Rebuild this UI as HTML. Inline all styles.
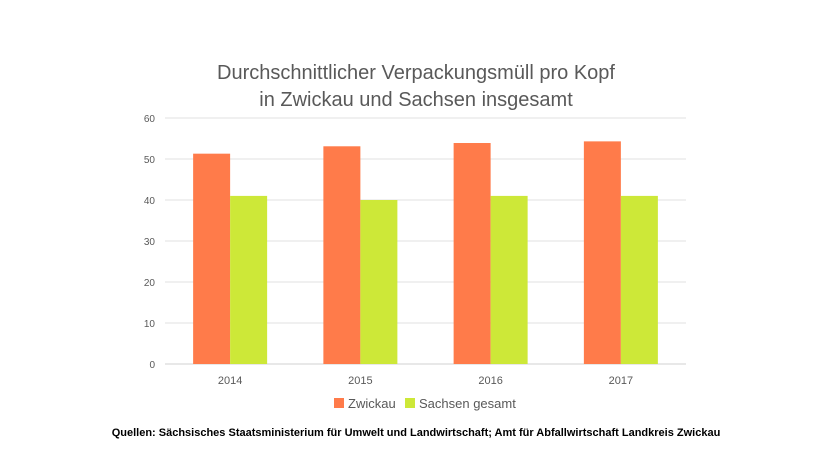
<!DOCTYPE html>
<html><head><meta charset="utf-8"><style>
body{margin:0;background:#fff;font-family:"Liberation Sans",sans-serif}
</style></head><body>
<svg width="833" height="469" xmlns="http://www.w3.org/2000/svg">
<text x="416" y="79" text-anchor="middle" font-size="20" fill="#595959">Durchschnittlicher Verpackungsmüll pro Kopf</text>
<text x="416" y="106" text-anchor="middle" font-size="20" fill="#595959">in Zwickau und Sachsen insgesamt</text>
<g id="grid"></g><g id="bars"></g><g id="labels"></g>
<rect x="334" y="398" width="10" height="10" fill="#ff7b4a"/>
<text x="348" y="408" font-size="13" fill="#595959">Zwickau</text>
<rect x="405" y="398" width="10" height="10" fill="#cde838"/>
<text x="419" y="408" font-size="13" fill="#595959">Sachsen gesamt</text>
<text x="416" y="436" text-anchor="middle" font-size="11" font-weight="bold" fill="#000">Quellen: Sächsisches Staatsministerium für Umwelt und Landwirtschaft; Amt für Abfallwirtschaft Landkreis Zwickau</text>
</svg>
<script>
const categories=["2014","2015","2016","2017"];
const zwickau=[51.3,53.1,53.9,54.3];
const sachsen=[41,40,41,41];
const yTicks=[0,10,20,30,40,50,60];
const NS="http://www.w3.org/2000/svg";
const L=165,R=686,T=118,B=364,maxV=60;
const y=v=>B-(v/maxV)*(B-T);
const cw=(R-L)/categories.length;
const cx=i=>L+cw*(i+0.5);
const bw=37;
function mk(tag,attrs,parent){const e=document.createElementNS(NS,tag);for(const k in attrs)e.setAttribute(k,attrs[k]);document.getElementById(parent).appendChild(e);return e;}
yTicks.forEach(t=>{
  const l=mk('line',{x1:L,x2:R,y1:y(t),y2:y(t),stroke:t===0?'#d0d0d0':'#e0e0e0','stroke-width':1},'grid');
  
  
  const tx=mk('text',{x:L-10,y:y(t)+4,'text-anchor':'end','font-size':10,fill:'#595959'},'labels');
  tx.textContent=t;
  
  
});
categories.forEach((c,i)=>{
  const a=mk('rect',{x:cx(i)-bw,y:y(zwickau[i]),width:bw,height:B-y(zwickau[i]),fill:'#ff7b4a'},'bars');
  
  
  const b=mk('rect',{x:cx(i),y:y(sachsen[i]),width:bw,height:B-y(sachsen[i]),fill:'#cde838'},'bars');
  
  
  const t=mk('text',{x:cx(i),y:384,'text-anchor':'middle','font-size':11,fill:'#595959'},'labels');
  t.textContent=c;
  
  
});
</script>
</body></html>
